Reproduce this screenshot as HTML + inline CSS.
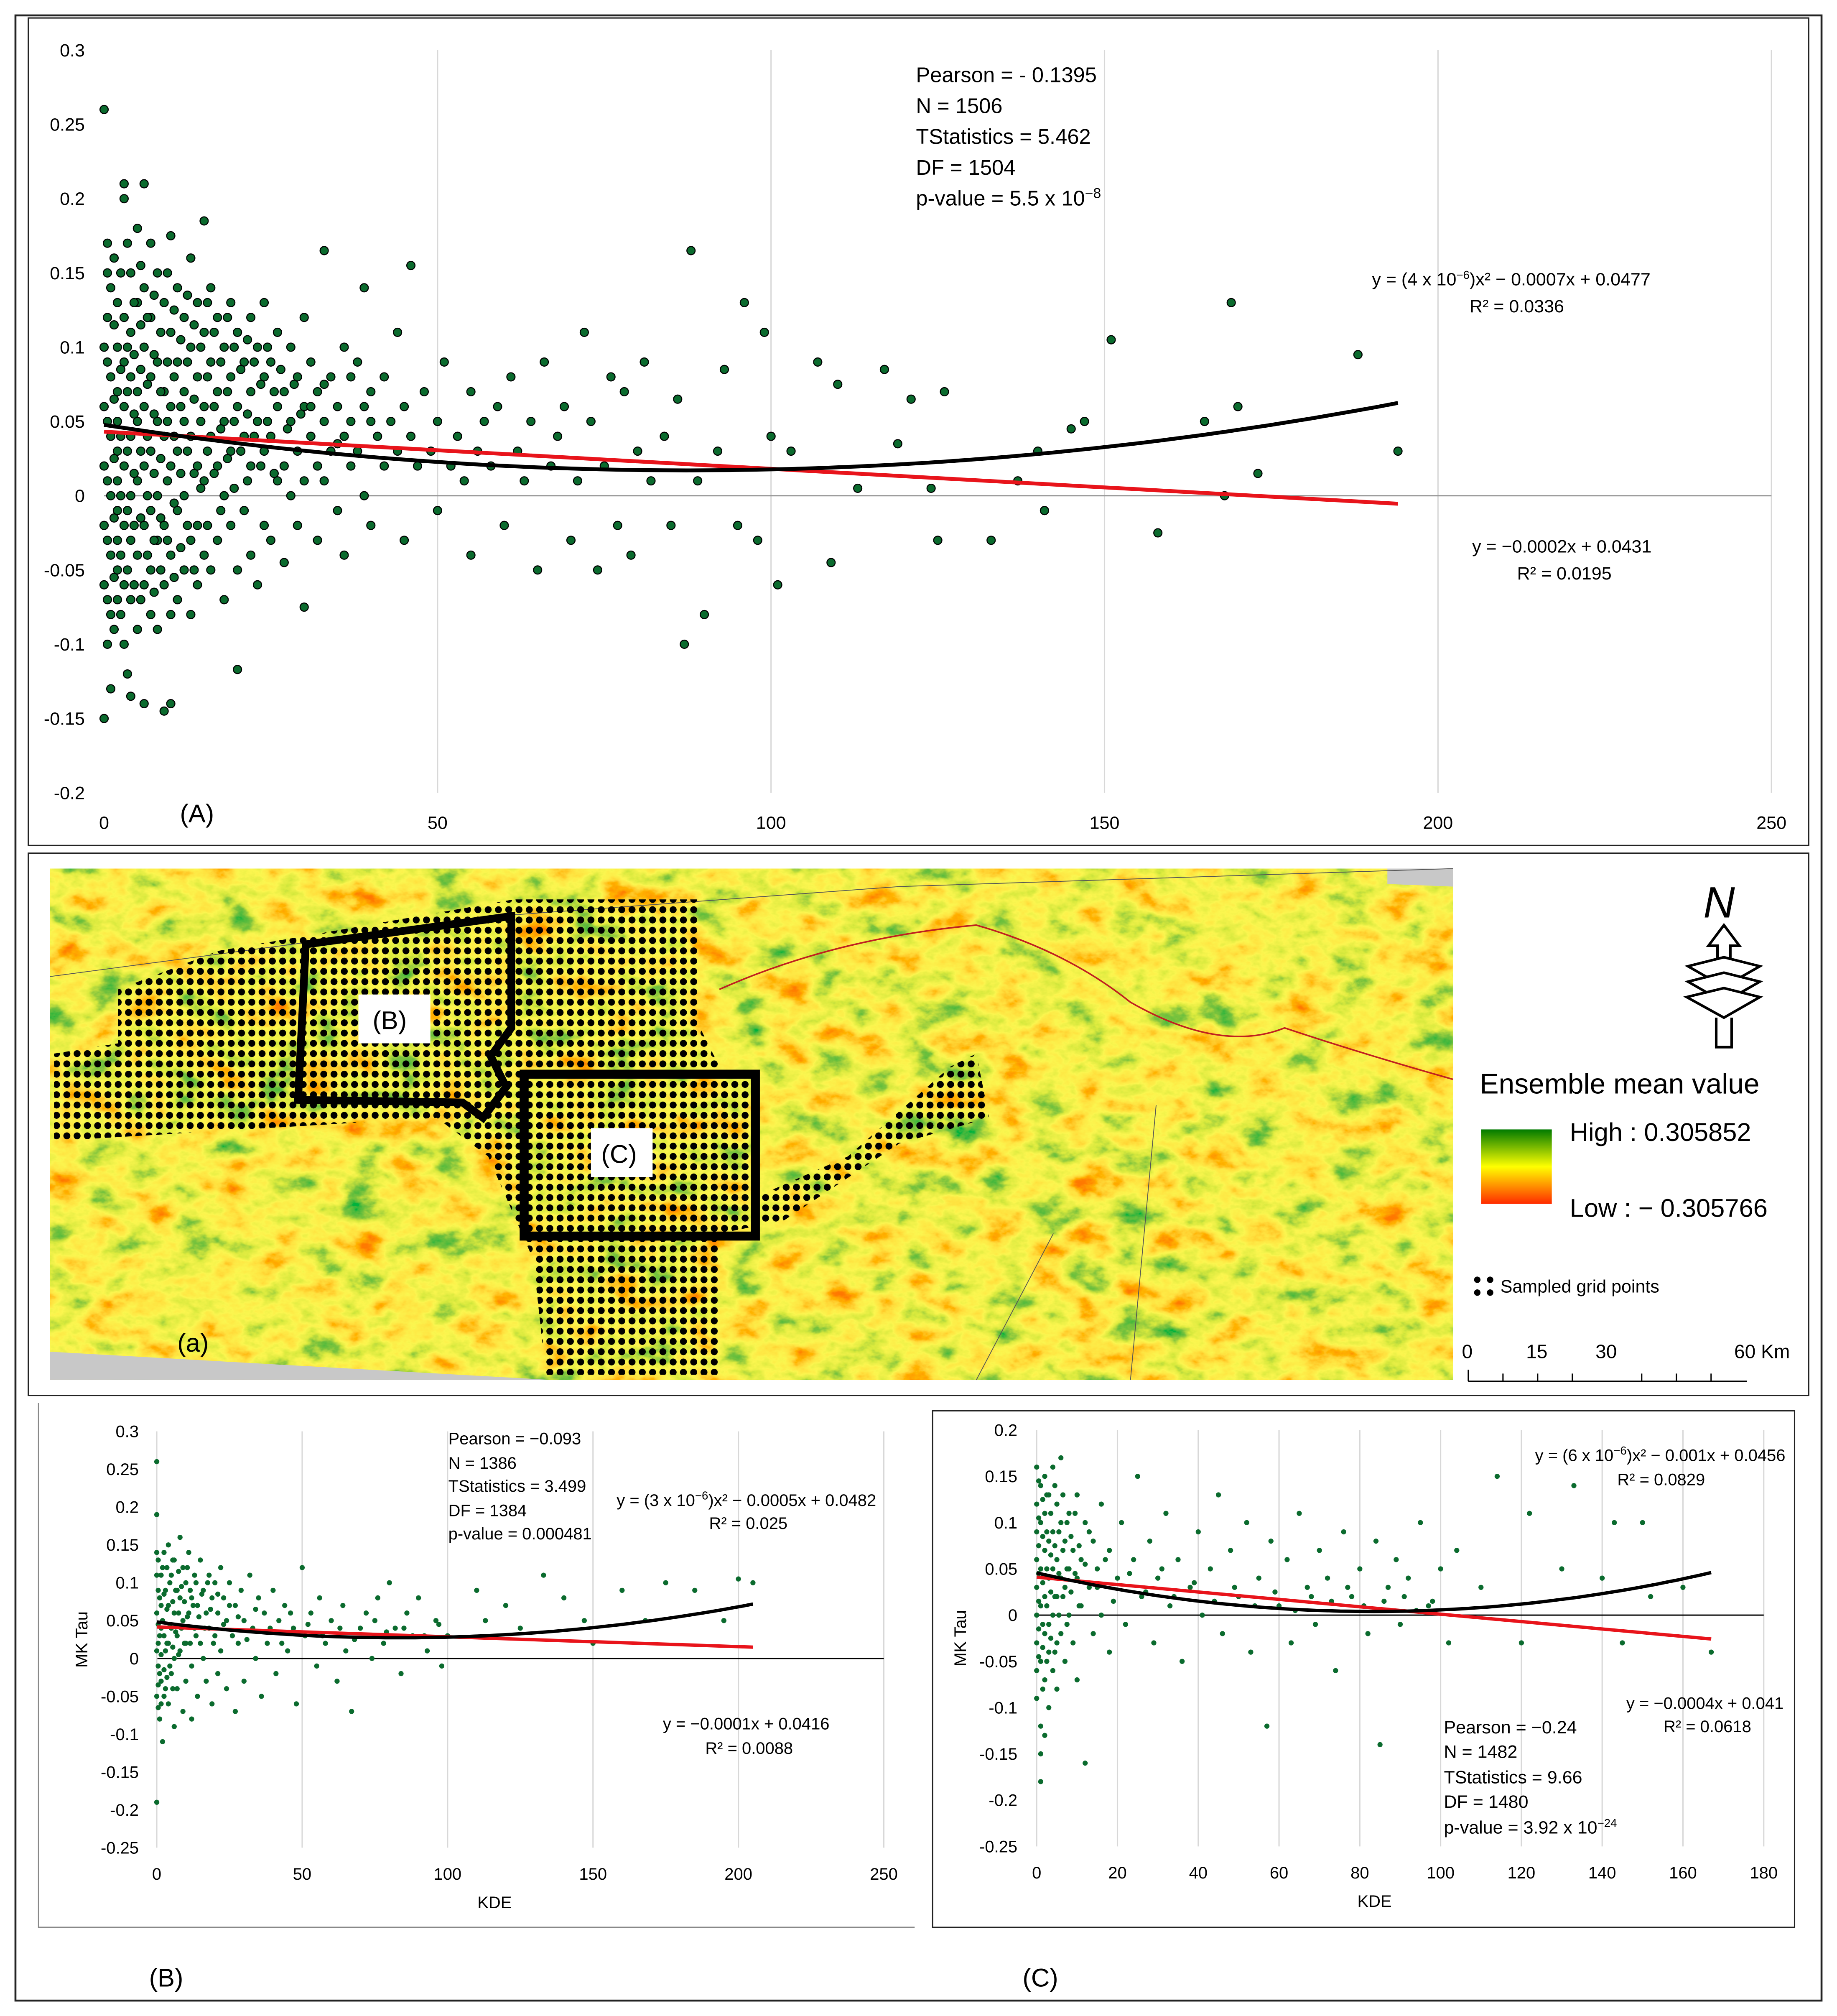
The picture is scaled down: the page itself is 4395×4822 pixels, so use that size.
<!DOCTYPE html>
<html><head><meta charset="utf-8">
<style>
html,body{margin:0;padding:0;background:#fff;}
svg{display:block;font-family:"Liberation Sans",sans-serif;}
</style></head>
<body>
<svg id="fig" width="4395" height="4822" viewBox="0 0 1430 1569" xmlns="http://www.w3.org/2000/svg">
<defs>
<pattern id="dots" x="0" y="0" width="8" height="8" patternUnits="userSpaceOnUse">
<circle cx="4" cy="4" r="2.7" fill="#000"/>
</pattern>
<filter id="terrain" x="0" y="0" width="100%" height="100%">
<feTurbulence type="fractalNoise" baseFrequency="0.03 0.045" numOctaves="5" seed="7" result="n"/>
<feColorMatrix in="n" type="matrix" values="1 0 0 0 0  1 0 0 0 0  1 0 0 0 0  0 0 0 0 1"/>
<feComponentTransfer>
<feFuncR type="table" tableValues="1 1 1 1 0.97 0.7 0.2 0 0"/>
<feFuncG type="table" tableValues="0.15 0.2 0.45 0.75 0.92 0.82 0.55 0.45 0.4"/>
<feFuncB type="table" tableValues="0 0 0 0.05 0.08 0.05 0.05 0.05 0.05"/>
</feComponentTransfer>
</filter>
<linearGradient id="legGrad" x1="0" y1="0" x2="0" y2="1">
<stop offset="0" stop-color="#007a00"/><stop offset="0.5" stop-color="#ffff00"/><stop offset="1" stop-color="#ff2a00"/>
</linearGradient>
</defs>

<rect x="12" y="12" width="1406" height="1545" fill="none" stroke="#222" stroke-width="1.5"/>
<rect x="22" y="14" width="1386" height="644" fill="none" stroke="#222" stroke-width="1"/>
<g id="chartA"></g>
<text x="713" y="64" font-size="16.5">Pearson = - 0.1395</text>
<text x="713" y="88" font-size="16.5">N = 1506</text>
<text x="713" y="112" font-size="16.5">TStatistics = 5.462</text>
<text x="713" y="136" font-size="16.5">DF = 1504</text>
<text x="713" y="160" font-size="16.5">p-value = 5.5 x 10<tspan dy="-6" font-size="11">−8</tspan></text>
<text x="1068" y="222" font-size="14">y = (4 x 10<tspan dy="-5" font-size="9">−6</tspan><tspan dy="5">)x² − 0.0007x + 0.0477</tspan></text>
<text x="1144" y="243" font-size="14">R² = 0.0336</text>
<text x="1146" y="430" font-size="14">y = −0.0002x + 0.0431</text>
<text x="1181" y="451" font-size="14">R² = 0.0195</text>
<text x="140" y="640" font-size="20">(A)</text>

<!-- map panel -->
<rect x="22" y="664" width="1386" height="422" fill="none" stroke="#222" stroke-width="1"/>
<g>
<rect x="39" y="676" width="1092" height="398" filter="url(#terrain)"/>
<polygon points="1080,676 1131,676 1131,690 1080,688" fill="#c8c8c8"/>
<polygon points="39,1052 430,1074 39,1074" fill="#c8c8c8"/>
<path d="M39,760 L400,712 L700,690 L1131,676 M900,860 L880,1074 M820,960 L760,1074" stroke="#555" stroke-width="0.6" fill="none"/>
<path d="M560,770 Q650,730 760,720 Q830,740 880,780 Q950,820 1000,800 Q1060,820 1131,840" stroke="#c02020" stroke-width="1.2" fill="none"/>
<g fill="url(#dots)">
<polygon points="42,820 92,812 92,770 170,740 240,728 400,700 545,700 545,800 560,830 592,840 592,930 660,900 740,830 760,820 770,870 700,890 610,950 560,960 560,1070 425,1070 415,980 380,900 340,870 42,888"/>
</g>
<polygon points="238,735 398,713 398,800 382,822 394,846 376,870 360,858 232,856" fill="none" stroke="#000" stroke-width="6"/>
<rect x="408" y="836" width="180" height="126" fill="none" stroke="#000" stroke-width="7"/>
<rect x="279" y="774" width="56" height="38" fill="#fff"/>
<text x="290" y="801" font-size="20">(B)</text>
<rect x="460" y="878" width="48" height="38" fill="#fff"/>
<text x="468" y="905" font-size="20">(C)</text>
<text x="138" y="1052" font-size="20">(a)</text>
</g>
<g stroke="#000" fill="none" stroke-width="2">
<text x="1326" y="714" font-size="34" font-style="italic" fill="#000" stroke="none">N</text>
<path d="M1342,720 L1354,736 L1347,736 L1347,750 L1337,750 L1337,736 L1330,736 Z" fill="#fff"/>
<path d="M1314,752 L1342,745 L1370,752 L1342,768 Z" fill="#fff"/>
<path d="M1314,764 L1342,757 L1370,764 L1342,780 Z" fill="#fff"/>
<path d="M1313,776 L1342,769 L1370,776 L1342,792 Z" fill="#fff"/>
<path d="M1336,792 L1336,815 L1348,815 L1348,792"/>
</g>
<text x="1152" y="851" font-size="22">Ensemble mean value</text>
<rect x="1153" y="879" width="55" height="58" fill="url(#legGrad)"/>
<text x="1222" y="888" font-size="20">High : 0.305852</text>
<text x="1222" y="947" font-size="20">Low : − 0.305766</text>
<g>
<circle cx="1150" cy="996" r="2.5"/><circle cx="1160" cy="996" r="2.5"/><circle cx="1150" cy="1006" r="2.5"/><circle cx="1160" cy="1006" r="2.5"/></g>
<text x="1168" y="1006" font-size="14">Sampled grid points</text>
<g font-size="15">
<text x="1138" y="1057">0</text><text x="1188" y="1057">15</text><text x="1242" y="1057">30</text><text x="1350" y="1057">60 Km</text>
<path d="M1143,1075 L1360,1075 M1143,1066 L1143,1075 M1170,1069 L1170,1075 M1197,1069 L1197,1075 M1224,1069 L1224,1075 M1278,1069 L1278,1075 M1305,1069 L1305,1075 M1332,1069 L1332,1075" stroke="#000" stroke-width="1" fill="none"/>
</g>

<!-- bottom panels -->
<path d="M30,1092 L30,1500 L712,1500" stroke="#888" fill="none" stroke-width="1"/>
<rect x="726" y="1098" width="671" height="402" fill="none" stroke="#222" stroke-width="1"/>
<g id="chartB"></g>
<g id="chartC"></g>
<g font-size="13">
<text x="349" y="1124">Pearson = −0.093</text>
<text x="349" y="1143">N = 1386</text>
<text x="349" y="1161">TStatistics = 3.499</text>
<text x="349" y="1180">DF = 1384</text>
<text x="349" y="1198">p-value = 0.000481</text>
<text x="480" y="1172">y = (3 x 10<tspan dy="-5" font-size="9">−6</tspan><tspan dy="5">)x² − 0.0005x + 0.0482</tspan></text>
<text x="552" y="1190">R² = 0.025</text>
<text x="516" y="1346">y = −0.0001x + 0.0416</text>
<text x="549" y="1365">R² = 0.0088</text>
<text x="1124" y="1349" font-size="14">Pearson = −0.24</text>
<text x="1124" y="1368" font-size="14">N = 1482</text>
<text x="1124" y="1388" font-size="14">TStatistics = 9.66</text>
<text x="1124" y="1407" font-size="14">DF = 1480</text>
<text x="1124" y="1427" font-size="14">p-value = 3.92 x 10<tspan dy="-5" font-size="9">−24</tspan></text>
<text x="1195" y="1137">y = (6 x 10<tspan dy="-5" font-size="9">−6</tspan><tspan dy="5">)x² − 0.001x + 0.0456</tspan></text>
<text x="1259" y="1156">R² = 0.0829</text>
<text x="1266" y="1330">y = −0.0004x + 0.041</text>
<text x="1295" y="1348">R² = 0.0618</text>
</g>
<text x="116" y="1546" font-size="20">(B)</text>
<text x="796" y="1546" font-size="20">(C)</text>
</svg>
<script>
// ---- data ----
const ticksXA=[0,50,100,150,200,250];
const ticksYA=[0.3,0.25,0.2,0.15,0.1,0.05,0,-0.05,-0.1,-0.15,-0.2];
const coefPolyA=[0.000004,-0.0007,0.0477];
const coefLinA=[-0.00025,0.0431];
const ptsA1=[[0,0.26],[0,-0.15],[1,-0.13],[0.5,0.17],[1,0.14],[0.5,0.12],[0,0.1],[1,0.08],[0,0.06],[1,0.04],[0,0.02],[1,0],[0,-0.02],[1,-0.04],[0,-0.06],[1,-0.08],[0.5,-0.1],[2,0.13],[2,0.1],[2,0.07],[2,0.05],[2,0.03],[2,0.01],[2,-0.01],[2,-0.03],[2,-0.05],[2,-0.07],[3,0.2],[3,0.21],[3,0.12],[3,0.09],[3,0.06],[3,0.02],[3,-0.02],[3,-0.06],[3,-0.1],[4,0.15],[4,0.11],[4,0.08],[4,0.04],[4,0],[4,-0.03],[4,-0.07],[4,-0.135],[5,0.18],[5,0.13],[5,0.07],[5,0.05],[5,0.01],[5,-0.04],[5,-0.09],[6,0.21],[6,0.14],[6,0.1],[6,0.06],[6,0.02],[6,-0.02],[6,-0.06],[6,-0.14],[7,0.17],[7,0.12],[7,0.08],[7,0.03],[7,-0.01],[7,-0.05],[7,-0.08],[8,0.15],[8,0.09],[8,0.05],[8,0],[8,-0.03],[8,-0.09],[9,0.13],[9,0.07],[9,0.04],[9,-0.02],[9,-0.06],[9,-0.145],[10,0.175],[10,0.11],[10,0.06],[10,0.02],[10,-0.04],[10,-0.08],[10,-0.14],[11,0.14],[11,0.09],[11,0.03],[11,-0.01],[11,-0.07],[12,0.12],[12,0.07],[12,0.05],[12,0],[12,-0.05],[13,0.16],[13,0.1],[13,0.04],[13,-0.03],[13,-0.08],[14,0.13],[14,0.08],[14,0.02],[14,-0.02],[14,-0.06],[15,0.185],[15,0.11],[15,0.06],[15,0.01],[15,-0.04],[16,0.14],[16,0.09],[16,0.04],[16,-0.05],[17,0.12],[17,0.07],[17,0.02],[17,-0.03],[18,0.1],[18,0.05],[18,0],[18,-0.07],[19,0.13],[19,0.08],[19,0.03],[19,-0.02],[20,0.11],[20,0.06],[20,-0.05],[20,-0.117],[21,0.09],[21,0.04],[21,-0.01],[22,0.12],[22,0.07],[22,0.02],[22,-0.04],[23,0.1],[23,0.05],[23,-0.06],[24,0.13],[24,0.08],[24,0.03],[24,-0.02],[25,0.09],[25,0.04],[25,-0.03],[26,0.11],[26,0.06],[26,0.01],[27,0.07],[27,0.02],[27,-0.045],[28,0.1],[28,0.05],[28,0],[29,0.08],[29,0.03],[29,-0.02],[30,0.12],[30,0.06],[30,0.01],[30,-0.075],[31,0.09],[31,0.04],[32,0.07],[32,0.02],[32,-0.03],[33,0.165],[33,0.05],[33,0.01],[34,0.08],[34,0.03],[35,0.06],[35,-0.01],[36,0.1],[36,0.04],[36,-0.04],[37,0.05],[37,0.02],[38,0.09],[38,0.03],[39,0.14],[39,0.06],[39,0],[40,0.07],[40,-0.02],[41,0.04],[42,0.08],[42,0.02],[43,0.05],[44,0.11],[44,0.03],[45,0.06],[45,-0.03],[46,0.155],[46,0.04],[47,0.02],[48,0.07],[49,0.03],[50,0.05],[50,-0.01],[51,0.09],[52,0.02],[53,0.04],[54,0.01],[55,0.07],[55,-0.04],[56,0.03],[57,0.05],[58,0.02],[59,0.06],[60,-0.02],[61,0.08],[62,0.03],[63,0.01],[64,0.05],[65,-0.05],[66,0.09],[67,0.02],[68,0.04],[69,0.06],[70,-0.03],[71,0.01],[72,0.11],[73,0.05],[74,-0.05],[75,0.02],[76,0.08],[77,-0.02],[78,0.07],[79,-0.04],[80,0.03],[81,0.09],[82,0.01],[84,0.04],[85,-0.02],[86,0.065],[87,-0.1],[88,0.165],[89,0.01],[90,-0.08],[92,0.03],[93,0.085],[95,-0.02],[96,0.13],[98,-0.03],[99,0.11],[100,0.04],[101,-0.06],[103,0.03],[107,0.09],[109,-0.045],[110,0.075],[113,0.005],[117,0.085],[119,0.035],[121,0.065],[124,0.005],[125,-0.03],[126,0.07],[133,-0.03],[137,0.01],[140,0.03],[141,-0.01],[145,0.045],[147,0.05],[151,0.105],[158,-0.025],[165,0.05],[169,0.13],[170,0.06],[168,0],[173,0.015],[188,0.095],[194,0.03]];
const ptsA2=[[0.5,0.15],[0.5,0.09],[0.5,0.05],[0.5,0.01],[0.5,-0.03],[0.5,-0.07],[1.5,0.16],[1.5,0.115],[1.5,0.065],[1.5,0.025],[1.5,-0.015],[1.5,-0.055],[1.5,-0.09],[2.5,0.15],[2.5,0.085],[2.5,0.04],[2.5,0],[2.5,-0.04],[2.5,-0.08],[3.5,0.17],[3.5,0.1],[3.5,0.07],[3.5,0.03],[3.5,-0.01],[3.5,-0.05],[3.5,-0.12],[4.5,0.13],[4.5,0.095],[4.5,0.055],[4.5,0.015],[4.5,-0.02],[4.5,-0.06],[5.5,0.155],[5.5,0.115],[5.5,0.085],[5.5,0.03],[5.5,-0.015],[5.5,-0.07],[6.5,0.12],[6.5,0.075],[6.5,0.04],[6.5,0],[6.5,-0.04],[7.5,0.135],[7.5,0.095],[7.5,0.055],[7.5,0.015],[7.5,-0.03],[7.5,-0.065],[8.5,0.11],[8.5,0.07],[8.5,0.025],[8.5,-0.015],[8.5,-0.05],[9.5,0.15],[9.5,0.09],[9.5,0.05],[9.5,0.01],[9.5,-0.03],[10.5,0.125],[10.5,0.08],[10.5,0.04],[10.5,-0.005],[10.5,-0.055],[11.5,0.105],[11.5,0.06],[11.5,0.015],[11.5,-0.035],[12.5,0.135],[12.5,0.09],[12.5,0.03],[12.5,-0.02],[13.5,0.115],[13.5,0.065],[13.5,0.015],[13.5,-0.05],[14.5,0.1],[14.5,0.05],[14.5,0.005],[15.5,0.13],[15.5,0.08],[15.5,0.03],[15.5,-0.02],[16.5,0.11],[16.5,0.06],[16.5,0.015],[17.5,0.09],[17.5,0.045],[17.5,-0.01],[18.5,0.12],[18.5,0.07],[18.5,0.025],[19.5,0.1],[19.5,0.05],[19.5,0.005],[20.5,0.085],[20.5,0.03],[21.5,0.105],[21.5,0.055],[21.5,0.01],[22.5,0.09],[22.5,0.04],[23.5,0.075],[23.5,0.02],[24.5,0.1],[24.5,0.05],[25.5,0.07],[25.5,0.015],[26.5,0.085],[27.5,0.045],[28.5,0.075],[29.5,0.055],[31,0.06],[33,0.075],[35,0.035],[37,0.08],[40,0.05]];
const ptsA=ptsA1.concat(ptsA2);

const ticksXB=[0,50,100,150,200,250];
const ticksYB=[0.3,0.25,0.2,0.15,0.1,0.05,0,-0.05,-0.1,-0.15,-0.2,-0.25];
const coefPolyB=[0.000003,-0.0005,0.0482];
const coefLinB=[-0.00013,0.0416];
const ptsB1=[[0,0.26],[0,-0.19],[0,0.19],[0,0.14],[0,0.11],[1,0.08],[0,0.06],[1,0.03],[0,0.01],[1,-0.02],[0,-0.05],[1,-0.08],[2,-0.11],[2,0.12],[2,0.05],[3,0.09],[3,0.01],[3,-0.04],[4,0.15],[4,0.07],[4,0.02],[4,-0.06],[5,0.11],[5,0.04],[5,-0.02],[6,0.13],[6,0.06],[6,0],[6,-0.09],[7,0.09],[7,0.03],[7,-0.04],[8,0.16],[8,0.08],[8,0.01],[9,0.12],[9,0.05],[9,-0.07],[10,0.1],[10,0.02],[10,-0.03],[11,0.14],[11,0.06],[12,0.08],[12,-0.01],[12,-0.08],[13,0.11],[13,0.04],[14,0.07],[14,-0.05],[15,0.13],[15,0.02],[16,0.09],[16,0],[17,0.06],[17,-0.03],[18,0.11],[18,0.04],[19,0.08],[19,-0.06],[20,0.1],[20,0.03],[21,0.06],[21,-0.02],[22,0.12],[22,0.01],[23,0.08],[24,0.05],[24,-0.04],[25,0.1],[26,0.03],[27,0.07],[27,-0.07],[28,0.02],[29,0.09],[30,0.05],[30,-0.03],[32,0.11],[33,0.04],[34,0],[35,0.08],[36,-0.05],[37,0.06],[38,0.02],[40,0.09],[41,-0.02],[42,0.05],[44,0.07],[45,0.01],[47,0.04],[48,-0.06],[50,0.12],[51,0.03],[53,0.06],[55,-0.01],[56,0.08],[58,0.02],[60,0.05],[62,-0.03],[64,0.07],[65,0.01],[67,-0.07],[70,0.04],[72,0.06],[74,0],[76,0.08],[78,0.02],[80,0.1],[82,0.04],[84,-0.02],[86,0.06],[88,0.03],[90,0.08],[93,0.01],[96,0.05],[98,-0.01],[100,0.03],[110,0.09],[113,0.05],[120,0.07],[125,0.04],[133,0.11],[140,0.08],[147,0.05],[150,0.02],[160,0.09],[168,0.05],[175,0.1],[185,0.09],[195,0.05],[200,0.105],[205,0.1]];
const ptsB2=[[0.5,0.13],[0.5,0.09],[0.5,0.045],[0.5,0.02],[0.5,-0.01],[0.5,-0.035],[0.5,-0.065],[1.5,0.11],[1.5,0.07],[1.5,0.04],[1.5,0.005],[1.5,-0.03],[1.5,-0.06],[2.5,0.14],[2.5,0.085],[2.5,0.03],[2.5,-0.015],[2.5,-0.05],[3.5,0.12],[3.5,0.065],[3.5,0.02],[3.5,-0.025],[4.5,0.1],[4.5,0.045],[4.5,-0.01],[5.5,0.13],[5.5,0.075],[5.5,0.015],[5.5,-0.04],[6.5,0.09],[6.5,0.035],[7.5,0.115],[7.5,0.06],[7.5,0.005],[8.5,0.095],[8.5,0.04],[9.5,0.075],[9.5,0.02],[10.5,0.12],[10.5,0.055],[11.5,0.09],[11.5,0.02],[12.5,0.07],[13.5,0.1],[13.5,0.03],[14.5,0.055],[15.5,0.085],[16.5,0.04],[17.5,0.1],[18.5,0.065],[19.5,0.02],[21,0.085],[23,0.045],[25,0.07],[28,0.055],[31,0.025],[34,0.065],[39,0.04],[43,0.02],[46,0.06],[52,0.045],[57,0.03],[63,0.04],[68,0.025],[75,0.05],[79,0.035],[85,0.04],[92,0.03],[97,0.045]];
const ptsB=ptsB1.concat(ptsB2);

const ticksXC=[0,20,40,60,80,100,120,140,160,180];
const ticksYC=[0.2,0.15,0.1,0.05,0,-0.05,-0.1,-0.15,-0.2,-0.25];
const coefPolyC=[0.000006,-0.001,0.0456];
const coefLinC=[-0.0004,0.041];
const ptsC1=[[0,0.16],[0,0.12],[0,0.09],[0,0.06],[0,0.03],[0,0],[0,-0.03],[0,-0.06],[0,-0.09],[1,-0.12],[1,-0.15],[1,-0.18],[1,0.14],[1,0.1],[1,0.05],[1,0.01],[1,-0.05],[2,0.15],[2,0.11],[2,0.07],[2,0.02],[2,-0.02],[2,-0.07],[2,-0.13],[3,0.13],[3,0.08],[3,0.04],[3,-0.01],[3,-0.04],[3,-0.1],[4,0.16],[4,0.09],[4,0.05],[4,0],[4,-0.06],[5,0.12],[5,0.06],[5,0.02],[5,-0.03],[5,-0.08],[6,0.17],[6,0.1],[6,0.04],[6,-0.02],[7,0.08],[7,0.03],[7,-0.05],[8,0.11],[8,0.05],[8,0],[9,0.07],[9,-0.03],[10,0.13],[10,0.04],[10,-0.07],[11,0.06],[11,0.01],[12,0.1],[12,-0.16],[13,0.03],[14,0.08],[14,-0.02],[15,0.05],[16,0.12],[16,0],[18,0.07],[18,-0.04],[20,0.04],[21,0.1],[22,-0.01],[24,0.06],[25,0.15],[26,0.02],[28,0.08],[29,-0.03],[30,0.04],[32,0.11],[33,0.01],[35,0.06],[36,-0.05],[38,0.03],[40,0.09],[41,0],[43,0.05],[45,0.13],[46,-0.02],[48,0.07],[50,0.02],[52,0.1],[53,-0.04],[55,0.04],[57,-0.12],[58,0.08],[60,0.01],[62,0.06],[63,-0.03],[65,0.11],[67,0.03],[69,-0.01],[70,0.07],[72,0.04],[74,-0.06],[76,0.09],[78,0.02],[80,0.05],[82,-0.02],[84,0.08],[85,-0.14],[87,0.03],[89,0.06],[90,-0.01],[92,0.04],[95,0.1],[97,0.01],[100,0.05],[102,-0.03],[104,0.07],[110,0.03],[114,0.15],[120,-0.03],[122,0.11],[130,0.05],[133,0.14],[140,0.04],[143,0.1],[145,-0.03],[150,0.1],[152,0.02],[160,0.03],[167,-0.04]];
const ptsC2=[[0.5,0.145],[0.5,0.105],[0.5,0.075],[0.5,0.045],[0.5,0.015],[0.5,-0.015],[0.5,-0.045],[1.5,0.125],[1.5,0.085],[1.5,0.035],[1.5,-0.01],[1.5,-0.035],[1.5,-0.08],[2.5,0.13],[2.5,0.09],[2.5,0.05],[2.5,0.01],[2.5,-0.05],[3.5,0.11],[3.5,0.065],[3.5,0.025],[3.5,-0.025],[4.5,0.14],[4.5,0.075],[4.5,0.02],[4.5,-0.04],[5.5,0.09],[5.5,0.045],[5.5,0],[6.5,0.13],[6.5,0.07],[6.5,0.02],[7.5,0.1],[7.5,0.05],[7.5,-0.01],[8.5,0.085],[8.5,0.025],[9.5,0.11],[9.5,0.045],[10.5,0.075],[10.5,0.01],[12,0.055],[13,0.09],[15,0.03],[17,0.06],[19,0.015],[23,0.045],[27,0.025],[31,0.05],[34,0.02],[39,0.035],[44,0.015],[49,0.03],[54,0.01],[59,0.025],[64,0.005],[68,0.02],[73,0.015],[77,0.03],[81,0.01],[86,0.015],[91,0.02],[94,0.005],[98,0.015]];
const ptsC=ptsC1.concat(ptsC2);

// ---- drawing ----
const NS='http://www.w3.org/2000/svg';
function mk(parent,tag,attrs){const e=document.createElementNS(NS,tag);for(const k in attrs)e.setAttribute(k,attrs[k]);parent.appendChild(e);return e;}
function fmt(v){return (Math.round(v*100)/100).toString();}

function drawChart(gid,cfg){
  const g=document.getElementById(gid);
  const sx=v=>cfg.x0+(v-cfg.xmin)/(cfg.xmax-cfg.xmin)*(cfg.x1-cfg.x0);
  const sy=v=>cfg.y1+(v-cfg.ymin)/(cfg.ymax-cfg.ymin)*(cfg.y0-cfg.y1);
  cfg.tx.forEach(t=>{
    if(t!==cfg.xmin){const l=mk(g,'line',{x1:sx(t),x2:sx(t),y1:cfg.y0,y2:cfg.y1,stroke:'#d8d8d8','stroke-width':1});
    
    }
    const tt=mk(g,'text',{x:sx(t),y:cfg.xly,'font-size':cfg.fs,'text-anchor':'middle'});tt.textContent=t;
    
    
  });
  cfg.ty.forEach(t=>{
    const tt=mk(g,'text',{x:cfg.ylx,y:sy(t)+cfg.fs*0.35,'font-size':cfg.fs,'text-anchor':'end'});tt.textContent=fmt(t);
    
    
  });
  const z=mk(g,'line',{x1:cfg.x0,x2:cfg.zx1,y1:sy(0),y2:sy(0),stroke:cfg.zc,'stroke-width':1});
  
  
  if(cfg.yaxis){const a=mk(g,'line',{x1:cfg.x0,x2:cfg.x0,y1:cfg.y0,y2:cfg.y1,stroke:'#d8d8d8','stroke-width':1});
    
    }
  cfg.pts.forEach(p=>{
    const c=mk(g,'circle',{cx:sx(p[0]),cy:sy(p[1]),r:cfg.r,fill:'#0b6b2e',stroke:cfg.ps,'stroke-width':cfg.psw});
    
    
  });
  let d='';
  for(let i=0;i<=60;i++){const x=cfg.xend*i/60;const yq=cfg.poly[0]*x*x+cfg.poly[1]*x+cfg.poly[2];d+=(i?'L':'M')+sx(x).toFixed(1)+','+sy(yq).toFixed(1);}
  const d2='M'+sx(0)+','+sy(cfg.lin[1])+'L'+sx(cfg.xend)+','+sy(cfg.lin[0]*cfg.xend+cfg.lin[1]);
  const lr=mk(g,'path',{d:d2,stroke:'#e8141b','stroke-width':cfg.lw,fill:'none'});
  
  
  const pq=mk(g,'path',{d:d,stroke:'#000','stroke-width':cfg.lw,fill:'none'});
  
  
  if(cfg.xt){const t=mk(g,'text',{x:(cfg.x0+cfg.x1)/2-20,y:cfg.xly+22,'font-size':13,'text-anchor':'middle'});t.textContent=cfg.xt;
    
    
    const u=mk(g,'text',{x:0,y:0,'font-size':13,'text-anchor':'middle',transform:'translate('+cfg.ytx+','+((cfg.y0+cfg.y1)/2)+') rotate(-90)'});u.textContent='MK Tau';
    
    }
}
drawChart('chartA',{x0:81,x1:1379,y0:39,y1:617,xmin:0,xmax:250,ymin:-0.2,ymax:0.3,tx:ticksXA,ty:ticksYA,xly:645,ylx:66,fs:14,zx1:1379,zc:'#999',pts:ptsA,r:3.2,ps:'#000',psw:0.8,poly:coefPolyA,lin:coefLinA,xend:194,lw:3});
drawChart('chartB',{x0:122,x1:688,y0:1114,y1:1438,xmin:0,xmax:250,ymin:-0.25,ymax:0.3,tx:ticksXB,ty:ticksYB,xly:1463,ylx:108,fs:13,zx1:688,zc:'#000',pts:ptsB,r:2,ps:'none',psw:0,poly:coefPolyB,lin:coefLinB,xend:205,lw:2.6,xt:'KDE',ytx:68,yaxis:true});
drawChart('chartC',{x0:807,x1:1373,y0:1113,y1:1437,xmin:0,xmax:180,ymin:-0.25,ymax:0.2,tx:ticksXC,ty:ticksYC,xly:1462,ylx:792,fs:13,zx1:1373,zc:'#000',pts:ptsC,r:2,ps:'none',psw:0,poly:coefPolyC,lin:coefLinC,xend:167,lw:2.6,xt:'KDE',ytx:752,yaxis:true});
</script>
</body></html>
